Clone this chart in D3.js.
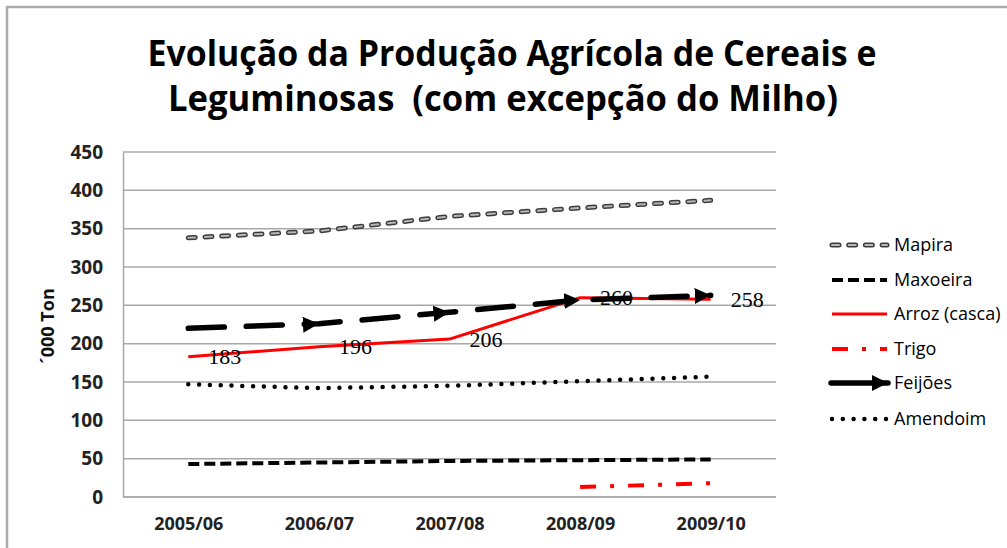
<!DOCTYPE html>
<html>
<head>
<meta charset="utf-8">
<script src="https://cdn.jsdelivr.net/npm/d3@7"></script>
<style>
  html, body { margin: 0; padding: 0; background: #fff; overflow: hidden; }
  svg { display: block; }
</style>
</head>
<body>
<div id="chart"></div>
<script>
// Chart data
const categories = ['2005/06', '2006/07', '2007/08', '2008/09', '2009/10'];
const mapira   = [338, 347, 366, 377, 387];
const maxoeira = [43, 45, 47, 48, 49];
const arroz    = [183, 196, 206, 260, 258];
const trigo    = [null, null, null, 13, 18];
const feijoes  = [220, 226, 241, 257, 263];
const amendoim = [147, 142, 145, 151, 157];
const yTicks   = [0, 50, 100, 150, 200, 250, 300, 350, 400, 450];

const titleLines = ['Evolução da Produção Agrícola de Cereais e', 'Leguminosas  (com excepção do Milho)'];
const yTitle = '´000 Ton';

const W = 1007, H = 548;
const plot = { left: 123, right: 776, top: 152, bottom: 497 };

const svg = d3.select('#chart').append('svg')
    .attr('width', W)
    .attr('height', H);

// arrow marker for Feijões
svg.append('defs').append('marker')
    .attr('id', 'tri')
    .attr('viewBox', '0 0 10 10')
    .attr('refX', 10)
    .attr('refY', 5)
    .attr('markerUnits', 'userSpaceOnUse')
    .attr('markerWidth', 16)
    .attr('markerHeight', 16)
    .attr('orient', 'auto')
    .append('path')
    .attr('d', 'M0,0 L10,5 L0,10 Z')
    .attr('fill', '#000');

// outer border (only top and left visible)
svg.append('path')
    .attr('d', `M7,${H} L7,7 L${W},7`)
    .attr('fill', 'none')
    .attr('stroke', '#acacac')
    .attr('stroke-width', 2.5);

// title
const titleFont = '"Open Sans", "Noto Sans", sans-serif';
const titleBoxes = [{ cx: 512, y: 66, w: 729 }, { cx: 503, y: 111, w: 670 }];
titleLines.forEach((t, i) => {
    svg.append('text')
        .attr('x', titleBoxes[i].cx)
        .attr('y', titleBoxes[i].y)
        .attr('text-anchor', 'middle')
        .attr('font-family', titleFont)
        .attr('font-weight', 'bold')
        .attr('font-size', 36)
        .attr('textLength', titleBoxes[i].w)
        .attr('lengthAdjust', 'spacingAndGlyphs')
        .attr('fill', '#000')
        .style('white-space', 'pre')
        .text(t);
});

// scales
const x = d3.scalePoint()
    .domain(categories)
    .range([plot.left, plot.right])
    .padding(0.5);

const y = d3.scaleLinear()
    .domain([0, 450])
    .range([plot.bottom, plot.top]);

const labelFont = '"Open Sans", "DejaVu Sans", sans-serif';

// gridlines
svg.append('g')
    .selectAll('line')
    .data(yTicks)
    .enter()
    .append('line')
    .attr('x1', plot.left)
    .attr('x2', plot.right)
    .attr('y1', d => y(d))
    .attr('y2', d => y(d))
    .attr('stroke', '#a8a8a8')
    .attr('stroke-width', 1.5);

// y axis
const yAxis = d3.axisLeft(y).tickValues(yTicks).tickSize(0).tickPadding(20);
const gy = svg.append('g')
    .attr('transform', `translate(${plot.left},0)`)
    .call(yAxis);
gy.select('.domain').attr('stroke', '#a8a8a8').attr('stroke-width', 1.5);
gy.selectAll('text')
    .attr('font-family', labelFont)
    .attr('font-weight', 'bold')
    .attr('font-size', 19)
    .attr('fill', '#222');

// x axis
const xAxis = d3.axisBottom(x).tickSize(0).tickPadding(20);
const gx = svg.append('g')
    .attr('transform', `translate(0,${plot.bottom})`)
    .call(xAxis);
gx.select('.domain').attr('d', `M${plot.left},0H${plot.right}`)
    .attr('stroke', '#a8a8a8').attr('stroke-width', 1.5);
gx.selectAll('text')
    .attr('font-family', labelFont)
    .attr('font-weight', 'bold')
    .attr('font-size', 18)
    .attr('fill', '#222');

// y title
svg.append('text')
    .attr('transform', 'translate(54,326) rotate(-90)')
    .attr('text-anchor', 'middle')
    .attr('font-family', labelFont)
    .attr('font-weight', 'bold')
    .attr('font-size', 18)
    .attr('fill', '#111')
    .text(yTitle);

// line generator
const line = d3.line()
    .defined(d => d.v != null)
    .x(d => x(d.c))
    .y(d => y(d.v));
const pts = arr => categories.map((c, i) => ({ c, v: arr[i] }));

const series = [
    { name: 'Mapira', data: mapira, styles: [
        { stroke: '#3c3c3c', width: 5, dash: '7 9.7', cap: 'round' },
        { stroke: '#b8b8b8', width: 2, dash: '7 9.7', cap: 'round' }] },
    { name: 'Maxoeira', data: maxoeira, styles: [
        { stroke: '#000', width: 4, dash: '11 5', cap: 'butt' }] },
    { name: 'Arroz (casca)', data: arroz, styles: [
        { stroke: '#ff0000', width: 3, dash: null, cap: 'butt' }] },
    { name: 'Trigo', data: trigo, styles: [
        { stroke: '#ff0000', width: 4, dash: '16 14 4 14', cap: 'butt' }] },
    { name: 'Feijões', data: feijoes, arrow: true, styles: [
        { stroke: '#000', width: 5.5, dash: '36 22', cap: 'round' }] },
    { name: 'Amendoim', data: amendoim, styles: [
        { stroke: '#000', width: 4.5, dash: '0 10.8', cap: 'round' }] }
];

const gLines = svg.append('g');
series.forEach(s => {
    s.styles.forEach(st => {
        const p = gLines.append('path')
            .datum(pts(s.data))
            .attr('d', line)
            .attr('fill', 'none')
            .attr('stroke', st.stroke)
            .attr('stroke-width', st.width)
            .attr('stroke-linecap', st.cap)
            .attr('stroke-linejoin', 'round');
        if (st.dash) p.attr('stroke-dasharray', st.dash);
        if (s.arrow) p.attr('marker-mid', 'url(#tri)').attr('marker-end', 'url(#tri)');
    });
});

// data labels for Arroz
svg.append('g')
    .selectAll('text')
    .data(pts(arroz))
    .enter()
    .append('text')
    .attr('x', d => x(d.c) + 20)
    .attr('y', d => y(d.v))
    .attr('dy', '0.35em')
    .attr('font-family', '"Liberation Serif", "DejaVu Serif", serif')
    .attr('font-size', 22)
    .attr('fill', '#000')
    .text(d => d.v);

// legend
const legendY = [245, 280, 314, 349, 383, 419];
const lg = svg.append('g');
series.forEach((s, i) => {
    const ly = legendY[i];
    s.styles.forEach(st => {
        const p = lg.append('line')
            .attr('x1', s.arrow ? 831 : 832)
            .attr('x2', s.arrow ? 888 : 887)
            .attr('y1', ly)
            .attr('y2', ly)
            .attr('stroke', st.stroke)
            .attr('stroke-width', st.width)
            .attr('stroke-linecap', st.cap);
        if (s.arrow) {
            p.attr('marker-end', 'url(#tri)');
        } else if (st.dash) {
            p.attr('stroke-dasharray', st.dash);
        }
    });
    lg.append('text')
        .attr('x', 894)
        .attr('y', ly)
        .attr('dy', '0.35em')
        .attr('font-family', labelFont)
        .attr('font-size', 18)
        .attr('fill', '#000')
        .text(s.name);
});
</script>
</body>
</html>
